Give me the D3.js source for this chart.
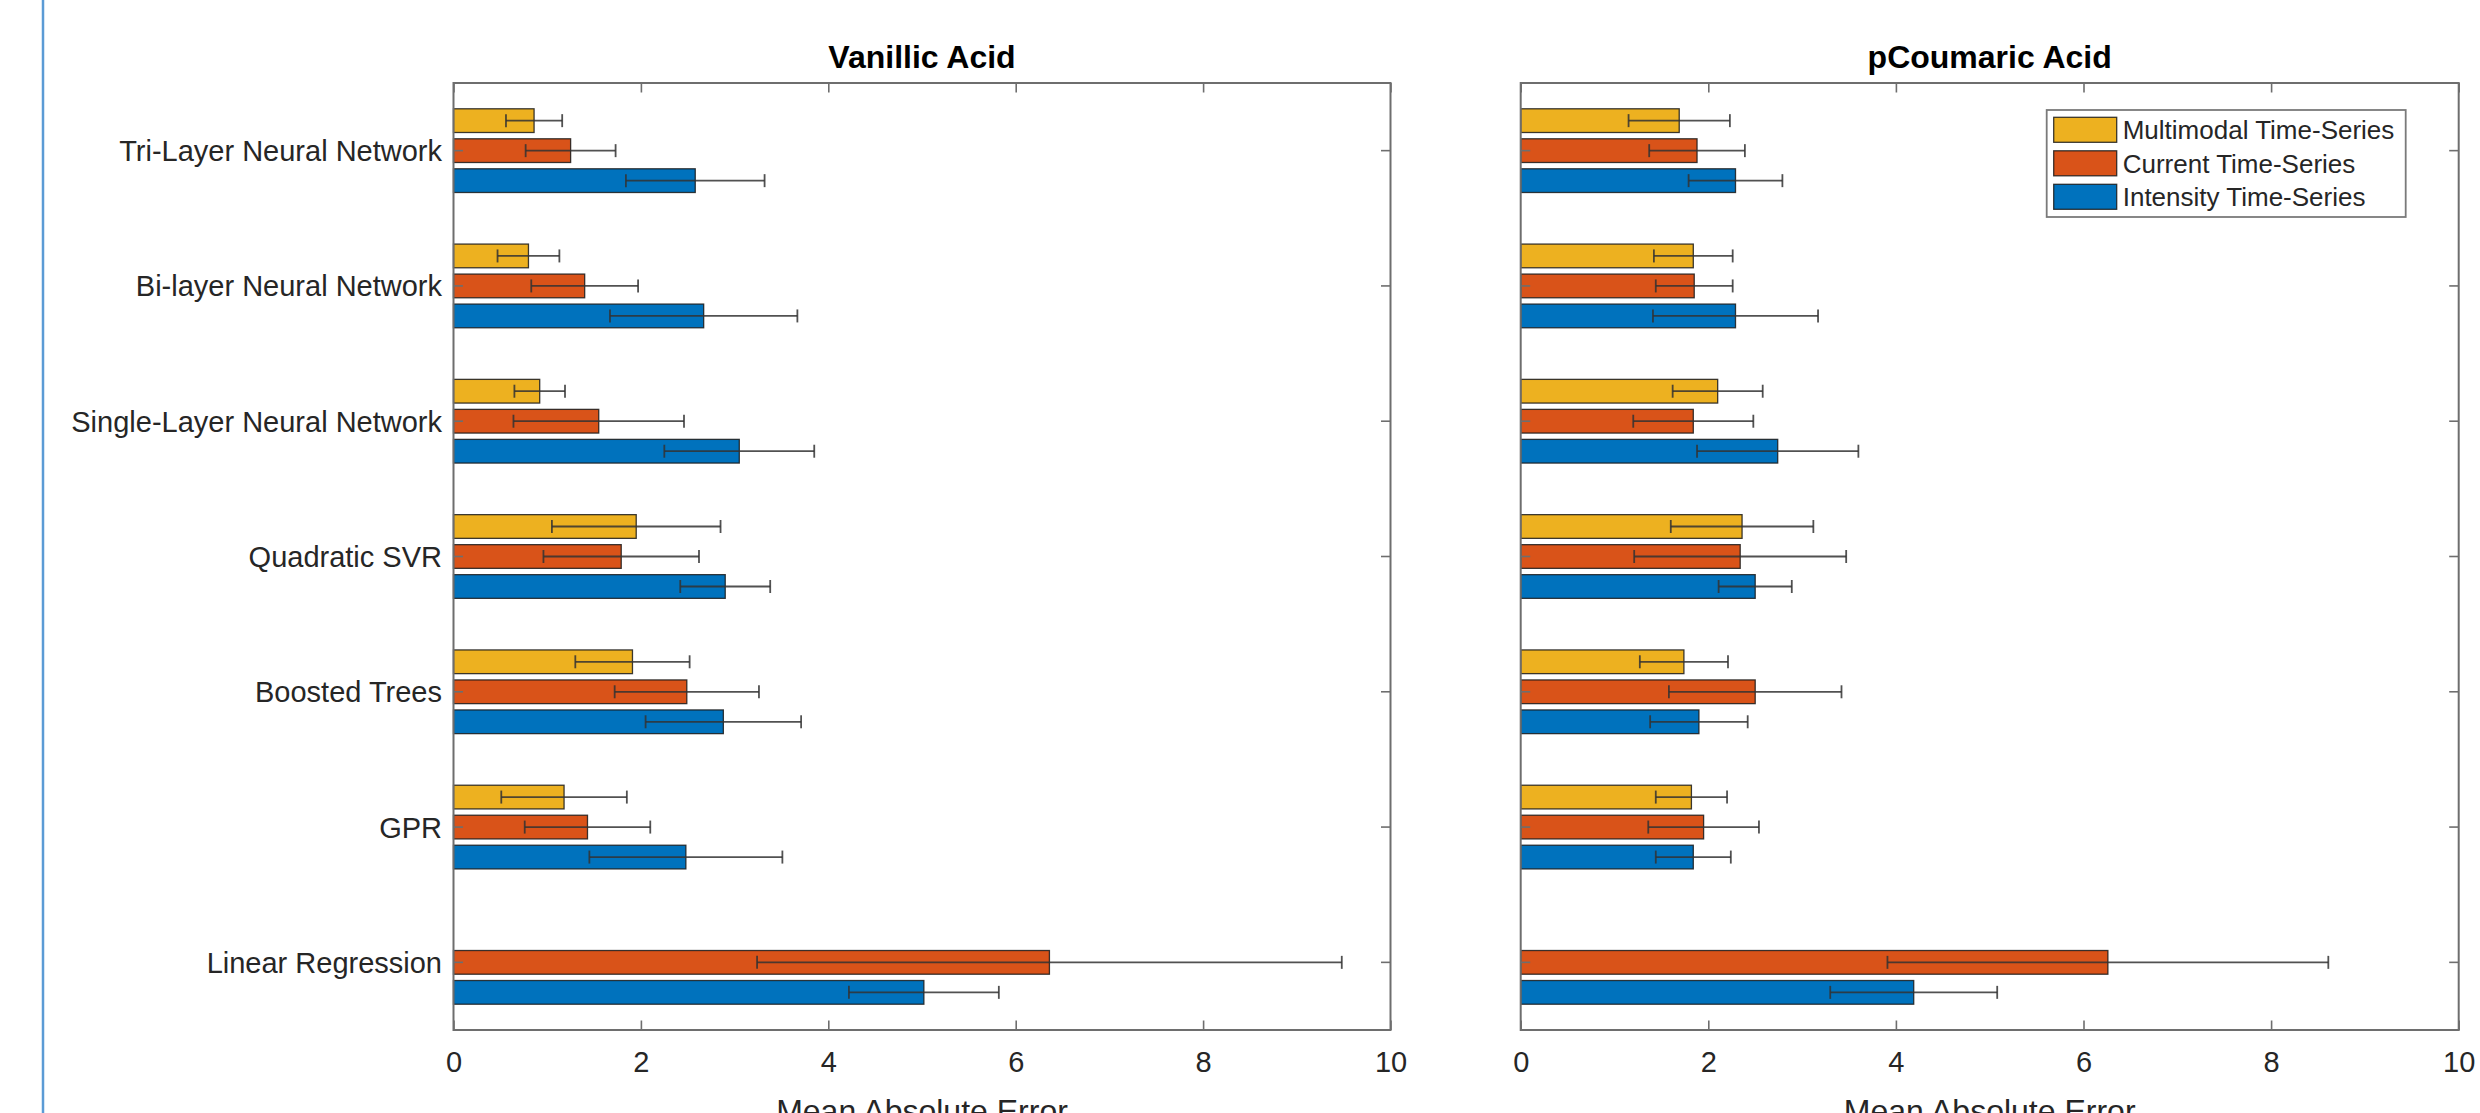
<!DOCTYPE html>
<html>
<head>
<meta charset="utf-8">
<script src="https://cdn.jsdelivr.net/npm/d3@7"></script>
<style>
  html, body { margin: 0; padding: 0; background: #fff; }
  svg { display: block; font-family: "Liberation Sans", Arial, sans-serif; }
</style>
</head>
<body>
<svg id="chart" width="2480" height="1113"></svg>
<script>
// categories, top to bottom
const categories = [
  "Tri-Layer Neural Network",
  "Bi-layer Neural Network",
  "Single-Layer Neural Network",
  "Quadratic SVR",
  "Boosted Trees",
  "GPR",
  "Linear Regression"
];
const seriesNames = ["Multimodal Time-Series", "Current Time-Series", "Intensity Time-Series"];
const seriesColors = ["#EDB120", "#D95319", "#0072BD"];
const xTicks = [0, 2, 4, 6, 8, 10];

// Vanillic Acid: mean absolute error and error-bar half widths
const vanillicMultimodal    = [0.86, 0.80, 0.92, 1.95, 1.91, 1.18, null];
const vanillicMultimodalErr = [0.30, 0.33, 0.27, 0.90, 0.61, 0.67, null];
const vanillicCurrent       = [1.25, 1.40, 1.55, 1.79, 2.49, 1.43, 6.36];
const vanillicCurrentErr    = [0.48, 0.57, 0.91, 0.83, 0.77, 0.67, 3.12];
const vanillicIntensity     = [2.58, 2.67, 3.05, 2.90, 2.88, 2.48, 5.02];
const vanillicIntensityErr  = [0.74, 1.00, 0.80, 0.48, 0.83, 1.03, 0.80];

// pCoumaric Acid
const coumaricMultimodal    = [1.69, 1.84, 2.10, 2.36, 1.74, 1.82, null];
const coumaricMultimodalErr = [0.54, 0.42, 0.48, 0.76, 0.47, 0.38, null];
const coumaricCurrent       = [1.88, 1.85, 1.84, 2.34, 2.50, 1.95, 6.26];
const coumaricCurrentErr    = [0.51, 0.41, 0.64, 1.13, 0.92, 0.59, 2.35];
const coumaricIntensity     = [2.29, 2.29, 2.74, 2.50, 1.90, 1.84, 4.19];
const coumaricIntensityErr  = [0.50, 0.88, 0.86, 0.39, 0.52, 0.40, 0.89];

const panels = [
  {
    title: "Vanillic Acid",
    left: 453.5, right: 1390.5,
    showLabels: true, showLegend: false,
    values: [vanillicMultimodal, vanillicCurrent, vanillicIntensity],
    errors: [vanillicMultimodalErr, vanillicCurrentErr, vanillicIntensityErr]
  },
  {
    title: "pCoumaric Acid",
    left: 1520.7, right: 2458.7,
    showLabels: false, showLegend: true,
    values: [coumaricMultimodal, coumaricCurrent, coumaricIntensity],
    errors: [coumaricMultimodalErr, coumaricCurrentErr, coumaricIntensityErr]
  }
];

const plotTop = 83, plotBottom = 1030;
const tickLen = 9.5;
const axisColor = "#6e6e6e";
const textColor = "#262626";

const svg = d3.select("#chart");

// thin blue frame line on the left of the figure
svg.append("line")
  .attr("x1", 43).attr("x2", 43)
  .attr("y1", 0).attr("y2", 1113)
  .attr("stroke", "#5b9bd5")
  .attr("stroke-width", 2.5);

const y0 = d3.scaleBand()
  .domain(categories)
  .range([plotTop, plotBottom]);

const y1 = d3.scaleBand()
  .domain(d3.range(seriesNames.length))
  .range([-45, 45])
  .paddingInner(0.21)
  .paddingOuter(0.105);

panels.forEach(p => drawPanel(p));

function drawPanel(p) {
  const x = d3.scaleLinear().domain([0, 10]).range([p.left, p.right]);
  const g = svg.append("g");

  // flatten into bar records
  const bars = [];
  p.values.forEach((vals, s) => {
    vals.forEach((v, i) => {
      if (v == null) return;
      bars.push({ cat: categories[i], s: s, v: v, e: p.errors[s][i] });
    });
  });

  const barY = d => y0(d.cat) + y0.bandwidth() / 2 + y1(d.s);

  g.append("g").selectAll("rect")
    .data(bars)
    .join("rect")
    .attr("x", x(0))
    .attr("y", barY)
    .attr("width", d => x(d.v) - x(0))
    .attr("height", y1.bandwidth())
    .attr("fill", d => seriesColors[d.s])
    .attr("stroke", "#1a1a1a")
    .attr("stroke-opacity", 0.85)
    .attr("stroke-width", 1.3);

  // error bars
  const eb = g.append("g")
    .attr("stroke", "#333")
    .attr("stroke-opacity", 0.85)
    .attr("stroke-width", 1.8)
    .selectAll("g")
    .data(bars)
    .join("g")
    .attr("transform", d => `translate(0,${barY(d) + y1.bandwidth() / 2})`);

  eb.append("line")
    .attr("x1", d => x(d.v - d.e))
    .attr("x2", d => x(d.v + d.e));
  eb.append("line")
    .attr("x1", d => x(d.v - d.e)).attr("x2", d => x(d.v - d.e))
    .attr("y1", -6.5).attr("y2", 6.5);
  eb.append("line")
    .attr("x1", d => x(d.v + d.e)).attr("x2", d => x(d.v + d.e))
    .attr("y1", -6.5).attr("y2", 6.5);

  // axes, ticks pointing inward
  const bottomAxis = g.append("g")
    .attr("transform", `translate(0,${plotBottom})`)
    .call(d3.axisBottom(x).tickValues(xTicks).tickSizeInner(-tickLen).tickSizeOuter(0).tickPadding(21));

  g.append("g")
    .attr("transform", `translate(0,${plotTop})`)
    .call(d3.axisTop(x).tickValues(xTicks).tickSizeInner(-tickLen).tickSizeOuter(0).tickFormat(""));

  const leftAxis = g.append("g")
    .attr("transform", `translate(${p.left},0)`)
    .call(d3.axisLeft(y0).tickSizeInner(-tickLen).tickSizeOuter(0).tickPadding(11.5)
      .tickFormat(p.showLabels ? (d => d) : ""));

  g.append("g")
    .attr("transform", `translate(${p.right},0)`)
    .call(d3.axisRight(y0).tickSizeInner(-tickLen).tickSizeOuter(0).tickFormat(""));

  g.selectAll(".domain").remove();
  g.selectAll(".tick line")
    .attr("stroke", axisColor)
    .attr("stroke-width", 1.6);

  bottomAxis.selectAll("text")
    .attr("fill", textColor)
    .style("font-size", "29px");

  leftAxis.selectAll("text")
    .attr("fill", textColor)
    .attr("dy", "0.36em")
    .style("font-size", "29px");

  // box
  g.append("rect")
    .attr("x", p.left).attr("y", plotTop)
    .attr("width", p.right - p.left).attr("height", plotBottom - plotTop)
    .attr("fill", "none")
    .attr("stroke", axisColor)
    .attr("stroke-width", 2);

  // title
  g.append("text")
    .attr("x", (p.left + p.right) / 2)
    .attr("y", 68)
    .attr("text-anchor", "middle")
    .attr("fill", "#000")
    .style("font-size", "32px")
    .style("font-weight", "bold")
    .text(p.title);

  // x axis label
  g.append("text")
    .attr("x", (p.left + p.right) / 2)
    .attr("y", 1122)
    .attr("text-anchor", "middle")
    .attr("fill", textColor)
    .style("font-size", "32px")
    .text("Mean Absolute Error");

  if (p.showLegend) drawLegend(g, p);
}

function drawLegend(g, p) {
  const lx = p.right - 412, ly = plotTop + 27;
  const lw = 359, lh = 107;
  const leg = g.append("g").attr("transform", `translate(${lx},${ly})`);

  leg.append("rect")
    .attr("width", lw).attr("height", lh)
    .attr("fill", "#fff")
    .attr("stroke", "#7a7a7a")
    .attr("stroke-width", 1.8);

  const item = leg.selectAll("g.item")
    .data(seriesNames)
    .join("g")
    .attr("class", "item")
    .attr("transform", (d, i) => `translate(7,${7.3 + i * 33.5})`);

  item.append("rect")
    .attr("width", 63).attr("height", 25)
    .attr("fill", (d, i) => seriesColors[i])
    .attr("stroke", "#1a1a1a")
    .attr("stroke-opacity", 0.85)
    .attr("stroke-width", 1.3);

  item.append("text")
    .attr("x", 69)
    .attr("y", 12.5)
    .attr("dy", "0.36em")
    .attr("fill", textColor)
    .style("font-size", "26px")
    .text(d => d);
}
</script>
</body>
</html>
